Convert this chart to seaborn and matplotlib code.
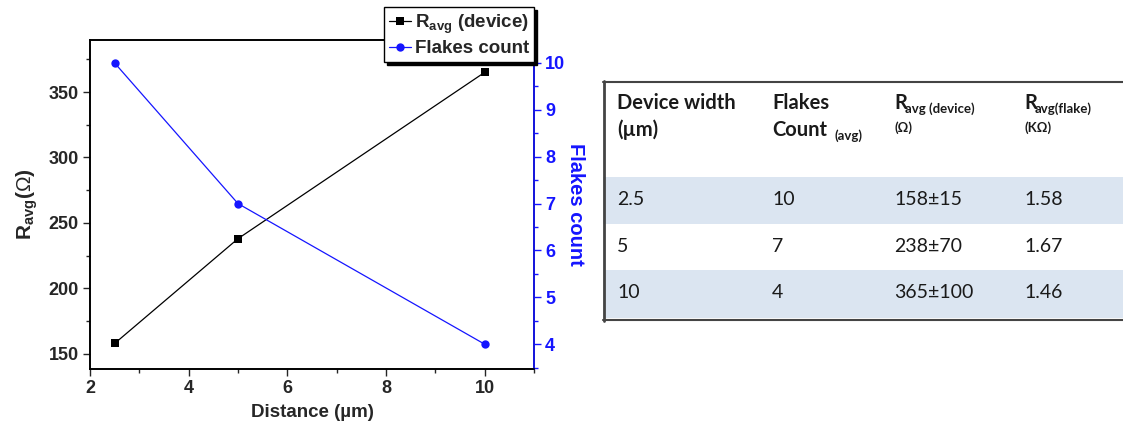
import numpy as np
import pandas as pd
import seaborn as sns
import matplotlib.pyplot as plt
from matplotlib.ticker import MultipleLocator
from matplotlib.patches import Rectangle

# data
distance = [2.5, 5, 10]
r_avg = [158, 238, 365]
flakes = [10, 7, 4]

# table contents
tbl_width = ['2.5', '5', '10']
tbl_flakes = ['10', '7', '4']
tbl_rdev = ['158±15', '238±70', '365±100']
tbl_rflake = ['1.58', '1.67', '1.46']

sns.set_style('ticks')
plt.rcParams['font.family'] = ['Liberation Sans', 'DejaVu Sans']
plt.rcParams['mathtext.fontset'] = 'custom'
plt.rcParams['mathtext.rm'] = 'Liberation Sans'
plt.rcParams['mathtext.bf'] = 'Liberation Sans:bold'

BLUE = '#1515ff'
df = pd.DataFrame({'distance': distance, 'r_avg': r_avg, 'flakes': flakes})

fig = plt.figure(figsize=(11.23, 4.32), dpi=100)
ax = fig.add_axes([0.0801, 0.1458, 0.3954, 0.7616])
ax2 = ax.twinx()

sns.lineplot(data=df, x='distance', y='r_avg', ax=ax, color='black', marker='s',
             markersize=5.5, linewidth=0.9, markeredgewidth=0,
             label=r'R$_{\mathbf{avg}}$ (device)', legend=False)
sns.lineplot(data=df, x='distance', y='flakes', ax=ax2, color=BLUE, marker='o',
             markersize=6, linewidth=0.9, markeredgewidth=0, label='Flakes count', legend=False)

ax.set_xlim(2, 11)
ax.set_ylim(138.5, 389.7)
ax2.set_ylim(3.47, 10.49)
ax.xaxis.set_major_locator(MultipleLocator(2))
ax.xaxis.set_minor_locator(MultipleLocator(1))
ax.yaxis.set_major_locator(MultipleLocator(50))
ax.yaxis.set_minor_locator(MultipleLocator(25))
ax2.yaxis.set_major_locator(MultipleLocator(1))
ax2.yaxis.set_minor_locator(MultipleLocator(0.5))

for a in (ax, ax2):
    a.tick_params(which='major', length=5, width=1, direction='out', labelsize=13, pad=3)
    a.tick_params(which='minor', length=3, width=1, direction='out')
    for lab in a.get_xticklabels() + a.get_yticklabels():
        lab.set_fontweight('bold')
    for sp in a.spines.values():
        sp.set_linewidth(1.2)
        sp.set_color('black')

ax2.spines['right'].set_color(BLUE)
ax2.tick_params(axis='y', which='both', colors=BLUE)
for lab in ax2.get_yticklabels():
    lab.set_color(BLUE)

ax.set_xlabel('Distance (µm)', fontsize=13.5, fontweight='bold', labelpad=5)
ax.set_ylabel(r'R$_{\mathbf{avg}}$($\Omega$)', fontsize=15, fontweight='bold', labelpad=6)
ax2.set_ylabel('Flakes count', fontsize=14.5, fontweight='bold', color=BLUE,
               rotation=270, labelpad=14)

h1, l1 = ax.get_legend_handles_labels()
h2, l2 = ax2.get_legend_handles_labels()
leg = ax2.legend(h1 + h2, l1 + l2, loc='lower right', bbox_to_anchor=(1.0, 0.933),
                 borderaxespad=0, frameon=True, fancybox=False,
                 shadow={'color': 'black', 'alpha': 1}, handlelength=1.2,
                 handletextpad=0.2, borderpad=0.25, labelspacing=0.25,
                 prop={'weight': 'bold', 'size': 13.5})
leg.get_frame().set_edgecolor('black')
leg.get_frame().set_linewidth(1)
leg.get_frame().set_alpha(1)

# table drawn in a pixel-like coordinate system
tx = fig.add_axes([0.537, 0.2546, 0.463, 0.558])
tx.set_xlim(603, 1123)
tx.set_ylim(322, 81)
tx.axis('off')

tfam = ['Lato', 'DejaVu Sans']
col_x = [617, 772, 894, 1024]
row_top = [177, 224, 270]
row_h = 47
shade = '#dbe5f1'
for i in range(len(tbl_width)):
    if i % 2 == 0:
        tx.add_patch(Rectangle((603, row_top[i]), 520, row_h + (1 if i == 2 else 0),
                               facecolor=shade, edgecolor='none'))
    yc = row_top[i] + row_h / 2 - 1
    for cx, val in zip(col_x, [tbl_width[i], tbl_flakes[i], tbl_rdev[i], tbl_rflake[i]]):
        tx.text(cx, yc, val, fontsize=14, va='center', ha='left', color='#1a1a1a',
                family=tfam)

tx.plot([604, 604], [81, 321], color='#444444', lw=2, clip_on=False)
tx.plot([603, 1123], [82, 82], color='#444444', lw=1.5, clip_on=False)
tx.plot([603, 1123], [320, 320], color='#444444', lw=1.5, clip_on=False)

hfont = dict(fontsize=14.5, fontweight='bold', va='center', ha='left', color='#1a1a1a',
             family=tfam)
sfont = dict(fontsize=9.5, fontweight='bold', va='center', ha='left', color='#1a1a1a',
             family=tfam)
tx.text(col_x[0], 103, 'Device width', **hfont)
tx.text(col_x[0], 130, '(µm)', **hfont)
tx.text(col_x[1], 103, 'Flakes', **hfont)
tx.text(col_x[1], 130, 'Count', **hfont)
tx.text(col_x[1] + 62, 136, '(avg)', **sfont)
tx.text(col_x[2], 103, 'R', **hfont)
tx.text(col_x[2] + 11, 109, 'avg (device)', **sfont)
tx.text(col_x[2], 128, '(Ω)', **sfont)
tx.text(col_x[3], 103, 'R', **hfont)
tx.text(col_x[3] + 11, 109, 'avg(flake)', **sfont)
tx.text(col_x[3], 128, '(KΩ)', **sfont)

fig.savefig('out.png', dpi=100)
